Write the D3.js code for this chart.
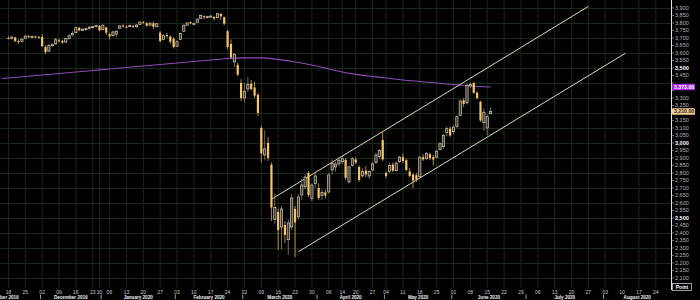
<!DOCTYPE html>
<html>
<head>
<meta charset="utf-8">
<script src="https://cdn.jsdelivr.net/npm/d3@7"></script>
<style>
  body { margin: 0; background: #000; }
  svg { display: block; font-family: "Liberation Sans", Arial, sans-serif; }
</style>
</head>
<body>
<svg id="chart"></svg>
<script>
const WIDTH = 700, HEIGHT = 300;
const PLOT_RIGHT = 671, PLOT_BOTTOM = 288;

// trading calendar (exchange closed on these days)
const holidays = ["2019-12-24", "2019-12-25", "2019-12-26", "2019-12-31", "2020-01-01",
                  "2020-04-10", "2020-04-13", "2020-05-01"];
const firstCandle = "2019-11-18";

// daily candles, one row per week
const opens = [
  3700, 3698, 3703, 3680, 3676,   3698, 3712, 3708, 3710, 3708,
  3706, 3640, 3612, 3650, 3660,   3685, 3680, 3672, 3695, 3720,
  3735, 3768, 3752, 3756, 3765,   3772, 3778,   3780, 3755, 3770,
  3725, 3715, 3725, 3765, 3782,   3775, 3775, 3780, 3775, 3790,
  3805, 3798, 3785, 3798, 3775,   3735, 3690, 3720, 3710, 3695,
  3645, 3690, 3745, 3785, 3805,   3792, 3805, 3830, 3845, 3840,
  3842, 3840, 3835, 3860, 3838,   3745, 3660, 3540, 3520, 3400,
  3300, 3360, 3395, 3370, 3320,   3100, 2920, 3000, 2855, 2490,
  2540, 2440, 2453, 2355, 2440,   2560, 2507, 2653, 2707, 2800,
  2630, 2730, 2700, 2650, 2670,   2673, 2820, 2840, 2860,
  2875, 2887, 2740, 2850,         2890, 2840, 2780, 2815, 2780,
  2820, 2870, 2910, 3020,         2800, 2810, 2855, 2815, 2875,
  2905, 2885, 2810, 2790, 2785,   2775, 2905, 2895, 2925, 2905,
  2905, 2955, 2975, 3070, 3095,   3075, 3110, 3185, 3285, 3267,
  3380, 3400, 3335, 3275, 3135,   3100, 3195
];
const highs = [
  3712, 3715, 3708, 3690, 3698,   3718, 3720, 3716, 3715, 3712,
  3726, 3650, 3660, 3665, 3700,   3695, 3688, 3700, 3722, 3745,
  3775, 3772, 3765, 3768, 3778,   3782, 3790,   3785, 3790, 3775,
  3735, 3750, 3750, 3785, 3792,   3785, 3790, 3788, 3792, 3812,
  3812, 3805, 3805, 3810, 3800,   3745, 3725, 3735, 3715, 3705,
  3685, 3735, 3790, 3805, 3810,   3802, 3830, 3855, 3850, 3848,
  3852, 3845, 3868, 3865, 3842,   3755, 3690, 3600, 3535, 3425,
  3400, 3440, 3420, 3410, 3335,   3115, 3085, 3040, 2870, 2660,
  2560, 2580, 2480, 2490, 2660,   2580, 2660, 2760, 2790, 2810,
  2730, 2810, 2730, 2690, 2690,   2800, 2890, 2875, 2905,
  2920, 2900, 2850, 2905,         2905, 2850, 2830, 2845, 2820,
  2875, 2935, 2960, 3080,         2810, 2870, 2870, 2880, 2915,
  2930, 2895, 2835, 2795, 2800,   2915, 2925, 2940, 2935, 2920,
  2955, 3005, 3060, 3110, 3110,   3115, 3185, 3290, 3300, 3395,
  3405, 3405, 3345, 3280, 3230,   3190, 3240
];
const lows = [
  3690, 3688, 3670, 3660, 3670,   3695, 3700, 3700, 3700, 3695,
  3640, 3593, 3608, 3640, 3655,   3670, 3660, 3668, 3690, 3715,
  3732, 3745, 3748, 3745, 3755,   3765, 3772,   3745, 3750, 3720,
  3690, 3710, 3705, 3760, 3770,   3765, 3770, 3765, 3768, 3788,
  3795, 3775, 3780, 3760, 3770,   3670, 3685, 3700, 3660, 3630,
  3640, 3685, 3740, 3780, 3790,   3785, 3800, 3828, 3825, 3828,
  3838, 3815, 3832, 3820, 3785,   3625, 3560, 3505, 3445, 3280,
  3270, 3340, 3350, 3300, 3180,   2870, 2885, 2880, 2480, 2460,
  2287, 2290, 2333, 2253, 2420,   2240, 2490, 2620, 2690, 2640,
  2610, 2700, 2620, 2620, 2630,   2665, 2790, 2810, 2845,
  2860, 2755, 2730, 2840,         2860, 2740, 2770, 2770, 2760,
  2810, 2860, 2895, 2880,         2765, 2800, 2805, 2810, 2865,
  2865, 2810, 2770, 2700, 2740,   2770, 2880, 2885, 2885, 2850,
  2900, 2950, 2960, 3045, 3040,   3060, 3100, 3180, 3240, 3255,
  3365, 3325, 3290, 3140, 3080,   3050, 3190
];
const closes = [
  3697, 3705, 3680, 3675, 3692,   3712, 3708, 3710, 3705, 3703,
  3645, 3605, 3650, 3655, 3688,   3680, 3670, 3695, 3715, 3730,
  3768, 3750, 3758, 3762, 3772,   3775, 3782,   3750, 3785, 3735,
  3710, 3740, 3745, 3780, 3778,   3772, 3784, 3775, 3786, 3805,
  3800, 3782, 3798, 3775, 3795,   3680, 3715, 3712, 3675, 3640,
  3675, 3730, 3785, 3800, 3798,   3797, 3825, 3850, 3838, 3842,
  3846, 3830, 3862, 3845, 3795,   3640, 3570, 3590, 3455, 3300,
  3345, 3390, 3360, 3315, 3200,   2930, 2960, 2900, 2570, 2570,
  2420, 2560, 2387, 2467, 2633,   2470, 2640, 2720, 2773, 2653,
  2720, 2780, 2633, 2670, 2650,   2787, 2865, 2860, 2885,
  2895, 2767, 2840, 2895,         2870, 2753, 2810, 2790, 2810,
  2860, 2920, 2950, 2890,         2780, 2850, 2815, 2865, 2905,
  2880, 2820, 2780, 2750, 2755,   2905, 2890, 2930, 2900, 2890,
  2945, 2995, 3050, 3095, 3050,   3105, 3175, 3280, 3260, 3385,
  3390, 3335, 3300, 3150, 3205,   3175, 3210
];

// moving average, read weekly
const maDates = ["2019-11-14", "2019-11-18", "2019-11-25", "2019-12-02", "2019-12-09", "2019-12-16",
  "2019-12-23", "2019-12-30", "2020-01-06", "2020-01-13", "2020-01-20", "2020-01-27", "2020-02-03",
  "2020-02-10", "2020-02-17", "2020-02-24", "2020-03-02", "2020-03-09", "2020-03-16", "2020-03-23",
  "2020-03-30", "2020-04-06", "2020-04-14", "2020-04-20", "2020-04-27", "2020-05-04", "2020-05-11",
  "2020-05-18", "2020-05-25", "2020-06-01", "2020-06-08", "2020-06-16"];
const maValues = [3430, 3433, 3443, 3453, 3463, 3473, 3483, 3487, 3493, 3503, 3513, 3523, 3533,
  3543, 3553, 3563, 3567, 3567, 3557, 3540, 3520, 3493, 3473, 3457, 3443, 3433, 3420,
  3410, 3400, 3390, 3380, 3373];

// trend channel
const upperDates = ["2020-03-12", "2020-07-27"];
const upperValues = [2625, 3910];
const lowerDates = ["2020-03-24", "2020-08-11"];
const lowerValues = [2275, 3598];

const priceTicks = d3.range(2100, 3901, 50);
const gridTicks = d3.range(2100, 3901, 100);

const fmt = d3.utcFormat("%Y-%m-%d");
const days = d3.utcDay.range(new Date("2019-11-14"), new Date("2020-08-29"))
  .filter(d => d.getUTCDay() % 6 !== 0 && !holidays.includes(fmt(d)))
  .map(fmt);

const start = days.indexOf(firstCandle);
const candles = closes.map((c, i) => ({
  date: days[start + i], open: opens[i], high: highs[i], low: lows[i], close: c
}));

const svg = d3.select("#chart").attr("width", WIDTH).attr("height", HEIGHT);
svg.append("rect").attr("width", WIDTH).attr("height", HEIGHT).attr("fill", "#000");

const x = d3.scalePoint().domain(days).range([0, PLOT_RIGHT]).padding(0.5);
const step = x.step();
const y = d3.scaleLinear().domain([2033, 3953]).range([PLOT_BOTTOM, 0]);

// week and month boundaries
const weekStarts = days.filter((d, i) => i > 0 &&
  +d3.utcMonday.floor(new Date(d)) !== +d3.utcMonday.floor(new Date(days[i - 1])));
const monthStarts = days.filter((d, i) => i > 0 && d.slice(0, 7) !== days[i - 1].slice(0, 7));

// grid
svg.append("g").selectAll("line").data(weekStarts).join("line")
  .attr("x1", d => x(d)).attr("x2", d => x(d))
  .attr("y1", 0).attr("y2", PLOT_BOTTOM)
  .attr("stroke", "#182818").attr("stroke-width", 1);
svg.append("g").selectAll("line").data(gridTicks).join("line")
  .attr("x1", 0).attr("x2", PLOT_RIGHT)
  .attr("y1", d => Math.round(y(d)) + 0.5).attr("y2", d => Math.round(y(d)) + 0.5)
  .attr("stroke", "#182818").attr("stroke-width", 1);

// moving average
const maLine = d3.line().x((d, i) => x(d)).y((d, i) => y(maValues[i])).curve(d3.curveMonotoneX);
svg.append("path").attr("d", maLine(maDates))
  .attr("fill", "none").attr("stroke", "#8f4bb5").attr("stroke-width", 1.1);

// channel lines
const straight = d3.line();
[[upperDates, upperValues], [lowerDates, lowerValues]].forEach(([ds, vs]) => {
  svg.append("path")
    .attr("d", straight(ds.map((d, i) => [x(d), y(vs[i])])))
    .attr("fill", "none").attr("stroke", "#ddd6bf").attr("stroke-width", 1);
});

// candles
const bodyW = 2.2;
const candle = svg.append("g").selectAll("g").data(candles).join("g");
candle.append("line")
  .attr("x1", d => x(d.date)).attr("x2", d => x(d.date))
  .attr("y1", d => y(d.high)).attr("y2", d => y(d.low))
  .attr("stroke", d => d.close < d.open ? "#d9a94f" : "#8c8476").attr("stroke-width", 0.8);
candle.append("rect")
  .attr("x", d => x(d.date) - bodyW / 2)
  .attr("width", bodyW)
  .attr("y", d => y(Math.max(d.open, d.close)))
  .attr("height", d => Math.max(1, Math.abs(y(d.open) - y(d.close))))
  .attr("fill", d => d.close < d.open ? "#f6c46a" : "#3b352c")
  .attr("stroke", d => d.close < d.open ? "none" : "#d4cab6")
  .attr("stroke-width", 0.7);

// value tags sit on the axis and hide the tick labels under them
const lastMa = maValues[maValues.length - 1];
const lastClose = closes[closes.length - 1];
const tagged = [lastMa, lastClose];
const labelTicks = priceTicks.filter(t => tagged.every(v => Math.abs(y(t) - y(v)) > 5));

// right price axis
const axis = svg.append("g");
axis.append("line").attr("x1", PLOT_RIGHT + 0.5).attr("x2", PLOT_RIGHT + 0.5)
  .attr("y1", 0).attr("y2", 290).attr("stroke", "#e8e8e8").attr("stroke-width", 1);
axis.selectAll(".tk").data(priceTicks).join("line")
  .attr("x1", PLOT_RIGHT).attr("x2", PLOT_RIGHT + 3)
  .attr("y1", d => y(d)).attr("y2", d => y(d))
  .attr("stroke", "#bbb").attr("stroke-width", 0.6);
axis.selectAll("text").data(labelTicks).join("text")
  .attr("x", PLOT_RIGHT + 4).attr("y", d => y(d)).attr("dy", "0.35em")
  .attr("font-size", 5.5)
  .attr("font-weight", d => d % 500 === 0 ? "bold" : "normal")
  .attr("fill", d => d % 500 === 0 ? "#fff" : "#b8b8b8")
  .text(d => d3.format(",")(d));

function tag(value, fill, color) {
  const g = svg.append("g").attr("transform", `translate(${PLOT_RIGHT + 1},${y(value)})`);
  g.append("rect").attr("x", 0).attr("y", -3.3).attr("width", 23).attr("height", 6.6)
    .attr("rx", 1).attr("fill", fill);
  g.append("text").attr("x", 2).attr("dy", "0.35em").attr("font-size", 5.2)
    .attr("font-weight", "bold").attr("fill", color).text(d3.format(",.2f")(value));
}
tag(lastMa, "#a32be0", "#fff");
tag(lastClose, "#f7cf94", "#222");

// unit box
svg.append("rect").attr("x", 672.5).attr("y", 283.5).attr("width", 19).attr("height", 7)
  .attr("fill", "#000").attr("stroke", "#ddd").attr("stroke-width", 0.7);
svg.append("text").attr("x", 682).attr("y", 289).attr("text-anchor", "middle")
  .attr("font-size", 5).attr("font-weight", "bold").attr("fill", "#fff").text("Point");

// bottom date axis
svg.append("g").selectAll("text").data(weekStarts).join("text")
  .attr("x", d => x(d)).attr("y", 293.5).attr("text-anchor", "middle")
  .attr("font-size", 5).attr("fill", "#c8c8c8")
  .text(d => d.slice(8, 10));

svg.append("g").selectAll("line").data(monthStarts).join("line")
  .attr("x1", d => x(d) - step / 2).attr("x2", d => x(d) - step / 2)
  .attr("y1", 294.5).attr("y2", 299)
  .attr("stroke", "#ddd").attr("stroke-width", 0.7);

const monthFmt = d3.utcFormat("%B %Y");
const bounds = monthStarts.map(d => x(d) - step / 2);
const monthLabels = [days[0]].concat(monthStarts).map((d, i) => {
  const end = i < bounds.length ? bounds[i] : PLOT_RIGHT;
  const begin = i === 0 ? bounds[0] - 23 * step : bounds[i - 1];
  return { name: monthFmt(new Date(d)), cx: (begin + end) / 2 };
});
svg.append("g").selectAll("text").data(monthLabels).join("text")
  .attr("x", d => d.cx).attr("y", 298.5).attr("text-anchor", "middle")
  .attr("font-size", 4.6).attr("font-weight", "bold").attr("fill", "#f0f0f0")
  .text(d => d.name);
</script>
</body>
</html>
